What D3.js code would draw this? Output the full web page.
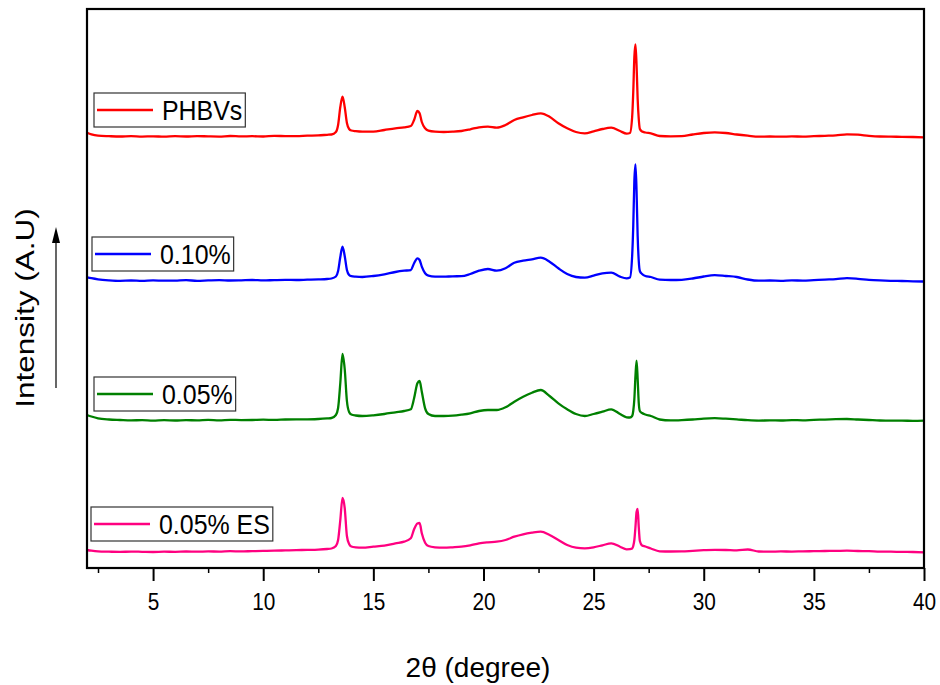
<!DOCTYPE html>
<html>
<head>
<meta charset="utf-8">
<script src="https://cdn.jsdelivr.net/npm/d3@7"></script>
<style>
  body { margin: 0; background: #fff; }
  svg text { font-family: "Liberation Sans", Arial, sans-serif; fill: #000; }
</style>
</head>
<body>
<div id="vis"></div>
<script>
/*************************** data ************************************/
// 2-theta grid (degree), denser around the sharp reflections
var twoTheta = [
  2.0, 2.2, 2.5, 3, 3.5, 4, 4.5, 5, 5.5, 6, 6.5, 7, 7.5, 8, 8.5, 9, 9.5, 10, 10.5, 11, 11.5, 12, 12.5, 12.9,
  13.1, 13.3, 13.4, 13.5, 13.6, 13.7, 13.8, 13.9, 14.0, 14.2, 14.5,
  15.0, 15.5, 16.0, 16.4, 16.7, 16.85, 17.0, 17.1, 17.2, 17.35, 17.5, 17.8,
  18.2, 18.6, 19.0, 19.4, 19.8, 20.2, 20.6, 21.0, 21.4, 21.8, 22.2, 22.6, 23.0, 23.4, 23.8, 24.2, 24.6, 25.0, 25.4, 25.8, 26.2, 26.5,
  26.65, 26.75, 26.8, 26.85, 26.9, 26.95, 27.0, 27.05, 27.1, 27.2, 27.35,
  27.6, 28.0, 28.5, 29, 29.5, 30, 30.5, 31, 31.5, 32, 32.5, 33, 33.5, 34, 34.5, 35, 35.5, 36, 36.5, 37, 37.5, 38, 38.5, 39, 39.5, 40
];

// intensities (A.U.) above each pattern's own baseline
var phbvs = [
  4.3, 2.6, 1.3, 0.8, 0.5, 0.9, 0.4, 0.7, 0.3, 0.8, 0.5, 0.9, 0.6, 0.4, 1.0, 0.6, 0.8, 0.5, 1.1, 0.9, 0.8, 1.3, 1.6, 2.2,
  2.5, 5, 12, 30, 40.3, 30, 14, 8, 6.5, 5.8, 5.3,
  5.3, 7, 8.7, 9.7, 11, 17, 26, 23.7, 15, 8.7, 6.3, 5.3,
  5, 5.3, 6, 7.7, 9.7, 10.3, 9.3, 12, 17, 19.7, 22, 23.7, 20.3, 13.7, 8.7, 5, 3.7, 5.7, 8, 9.3, 6, 3.3,
  4, 20, 45, 80, 92.7, 72, 38, 18, 8, 5.5, 4.5,
  3.7, 1, 0.7, 0.8, 2.5, 4, 4.7, 4, 2.5, 1.3, 0.3, 0.5, 0.3, 0.6, 0.4, 0.8, 1.2, 1.6, 2.7, 2.3, 1.2, 0.5, 0.3, 0.2, 0, -0.3
];
var pct010 = [
  3.7, 2.8, 1.7, 0.7, 0.2, 0.5, 0.1, 0.6, 0.3, 0.4, 0.8, 0.2, 0.6, 0.9, 0.5, 0.7, 1.0, 0.6, 0.9, 1.1, 1.0, 1.3, 1.6, 2.0,
  2.5, 4.5, 10, 24, 34.3, 25, 11, 6, 4.8, 4.3, 4,
  5, 6.7, 9, 10.3, 11, 17.7, 22.7, 21, 14.3, 7.7, 5.3, 4.3,
  4.3, 4.7, 4.8, 7, 10.3, 12, 10.3, 12.7, 18.3, 20.3, 21.7, 23.3, 19.3, 12.7, 7, 4, 3.3, 5.3, 7.7, 8.3, 4.3, 2.7,
  3.5, 25, 55, 100, 116.7, 90, 45, 20, 10, 7, 5,
  4, 1.3, 1, 1.2, 2.5, 4.5, 5.8, 5, 4, 1.5, 0.3, 0.5, 0.2, 0.6, 0.4, 0.9, 1.4, 1.8, 2.8, 2.2, 1.2, 0.6, 0.2, 0, -0.3, -0.5
];
var pct005 = [
  6, 4.5, 2.7, 1.5, 1.0, 0.6, 0.9, 0.4, 0.8, 0.5, 0.9, 0.6, 1.1, 0.7, 1.2, 0.9, 1.0, 1.3, 1.1, 1.5, 1.7, 1.6, 2.0, 2.6,
  3, 6, 13, 38, 67, 52, 20, 9, 6.5, 5.5, 5,
  5.7, 7, 8.7, 10, 11.7, 22.7, 37.7, 40, 29.3, 12.7, 7, 5,
  5, 5.3, 6.3, 7.7, 10, 11, 11, 13.7, 19.3, 24.3, 28.3, 31, 25, 17.7, 11.7, 7, 5, 7, 9.3, 11.7, 7, 3.7,
  3.5, 5, 10, 22, 45, 60.3, 42, 18, 10, 8, 6.5,
  5, 1.5, 0.6, 0.9, 1.5, 2.4, 2.8, 2.3, 1.6, 0.8, 0.4, 0.6, 0.5, 0.9, 0.7, 1.2, 1.4, 1.8, 2.0, 1.5, 1.0, 0.5, 0.3, 0.4, 0.1, 0.3
];
var pct005es = [
  2.0, 1.3, 0.6, 0.3, 0.1, 0.4, 0.2, 0.0, 0.3, 0.2, 0.5, 0.3, 0.6, 0.4, 0.8, 0.6, 0.9, 1.1, 1.3, 1.6, 1.9, 2.1, 2.4, 3.0,
  3.5, 6, 12, 32, 54, 44, 16, 8, 5.5, 4.6, 4.3,
  5.3, 6.3, 8.7, 10.3, 13.7, 22.7, 28.5, 29, 18.7, 9.3, 6, 4.7,
  4.3, 4.7, 5.3, 6.7, 8.7, 9.7, 10.3, 12, 15.3, 17.7, 19.3, 20.3, 17, 12, 7, 4.3, 3.7, 4.7, 6.7, 8.7, 5.3, 2.7,
  2.8, 3.5, 6, 12, 25, 40, 43, 25, 11, 6.5, 5.5,
  3.5, 0.7, 0.5, 0.6, 1.2, 1.8, 2.2, 2.0, 1.6, 2.5, 0.5, 0.3, 0.6, 0.4, 0.7, 0.8, 1.0, 1.1, 1.3, 1.0, 0.8, 0.4, 0.3, 0.1, 0, -0.3
];

var seriesNames  = ["PHBVs", "0.10%", "0.05%", "0.05% ES"];
var seriesValues = [phbvs, pct010, pct005, pct005es];
var stackOffsets = [431, 287, 147, 16];   // vertical shift of each pattern (A.U.)
var seriesColors = ["#ff0000", "#0000ff", "#008000", "#ff0080"];

var xMajorTicks = [5, 10, 15, 20, 25, 30, 35, 40];
var xMinorTicks = [2.5, 7.5, 12.5, 17.5, 22.5, 27.5, 32.5, 37.5];

/*************************** layout ************************************/
var W = 940, H = 685;
var plot = {left: 87, right: 924, top: 9, bottom: 568};
// legend box left/top for each pattern
var legendPos = [[94, 93], [92, 237], [94, 377], [91, 507]];

var svg = d3.select("div#vis").append("svg")
    .attr("width", W)
    .attr("height", H);

var x = d3.scaleLinear().domain([2, 40]).range([plot.left, plot.right]);
var y = d3.scaleLinear().domain([0, 559]).range([plot.bottom, plot.top]);

/*************************** patterns ************************************/
var line = d3.line()
    .x(function(d) { return x(d[0]); })
    .y(function(d) { return y(d[1]); })
    .curve(d3.curveMonotoneX);

seriesValues.forEach(function(vals, i) {
    var pts = twoTheta.map(function(t, j) { return [t, vals[j] + stackOffsets[i]]; });
    svg.append("path")
        .datum(pts)
        .attr("fill", "none")
        .attr("stroke", seriesColors[i])
        .attr("stroke-width", 2.3)
        .attr("stroke-linejoin", "round")
        .attr("d", line);
});

/*************************** axes ************************************/
var gx = svg.append("g")
    .attr("transform", "translate(0," + plot.bottom + ")")
    .call(d3.axisBottom(x).tickValues(xMajorTicks).tickSize(13).tickPadding(12).tickFormat(d3.format("d")));
gx.select(".domain").remove();
gx.selectAll(".tick line").attr("stroke", "#000").attr("stroke-width", 2);
gx.selectAll(".tick text")
    .attr("font-size", 24.5)
    .attr("font-family", "Liberation Sans, Arial, sans-serif")
    .attr("transform", "scale(0.85,1)");

var gxm = svg.append("g")
    .attr("transform", "translate(0," + plot.bottom + ")")
    .call(d3.axisBottom(x).tickValues(xMinorTicks).tickSize(5).tickFormat(""));
gxm.select(".domain").remove();
gxm.selectAll(".tick line").attr("stroke", "#000").attr("stroke-width", 1.5);

// frame
svg.append("rect")
    .attr("x", plot.left)
    .attr("y", plot.top)
    .attr("width", plot.right - plot.left)
    .attr("height", plot.bottom - plot.top)
    .attr("fill", "none")
    .attr("stroke", "#000")
    .attr("stroke-width", 2.2);

// axis titles
svg.append("text")
    .attr("x", 478)
    .attr("y", 677)
    .attr("text-anchor", "middle")
    .attr("font-size", 28)
    .text("2\u03b8 (degree)");

svg.append("text")
    .attr("transform", "translate(34,308) scale(0.82,1) rotate(-90)")
    .attr("text-anchor", "middle")
    .attr("font-size", 31.5)
    .text("Intensity (A.U)");

// intensity arrow
svg.append("line")
    .attr("x1", 56).attr("x2", 56)
    .attr("y1", 388).attr("y2", 240)
    .attr("stroke", "#000")
    .attr("stroke-width", 1.2);
svg.append("path")
    .attr("d", "M56,227 L60,243 L52,243 Z")
    .attr("fill", "#000");

/*************************** legends ************************************/
seriesNames.forEach(function(name, i) {
    var g = svg.append("g")
        .attr("transform", "translate(" + legendPos[i][0] + "," + legendPos[i][1] + ")");
    var box = g.append("rect")
        .attr("y", 0)
        .attr("height", 34)
        .attr("fill", "#fff")
        .attr("stroke", "#333")
        .attr("stroke-width", 1.2);
    g.append("line")
        .attr("x1", 3).attr("x2", 59)
        .attr("y1", 17).attr("y2", 17)
        .attr("stroke", seriesColors[i])
        .attr("stroke-width", 2.5);
    var t = g.append("text")
        .attr("transform", "translate(68,26.5) scale(0.89,1)")
        .attr("font-size", 28)
        .text(name);
    var tw = t.node().getComputedTextLength() * 0.89;
    box.attr("width", 68 + tw + 3);
});
</script>
</body>
</html>
